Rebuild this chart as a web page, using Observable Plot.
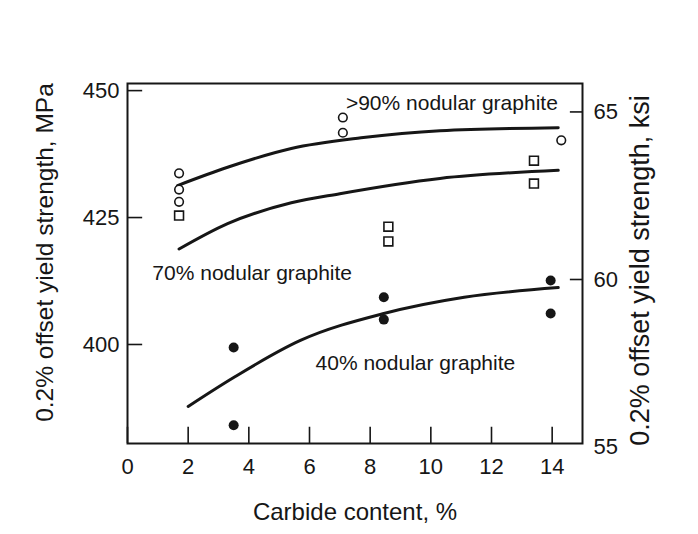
<!DOCTYPE html>
<html><head><meta charset="utf-8">
<script src="https://cdn.jsdelivr.net/npm/d3@7"></script>
<script src="https://cdn.jsdelivr.net/npm/@observablehq/plot@0.6"></script>
<style>html,body{margin:0;padding:0;background:#fff;}</style>
</head><body><div id="chart"></div>
<script>
// Axis ticks
const xTicks = [0, 2, 4, 6, 8, 10, 12, 14];
const mpaTicks = [400, 425, 450];
const ksiTicks = [55, 60, 65];

// >90% nodular graphite — open circles (carbide %, MPa)
const c90X = [1.7, 1.7, 1.7, 7.1, 7.1, 14.3];
const c90Y = [433.7, 430.5, 428.1, 444.7, 441.7, 440.2];
// 70% nodular graphite — open squares
const s70X = [1.7, 8.6, 8.6, 13.4, 13.4];
const s70Y = [425.4, 423.2, 420.3, 436.2, 431.7];
// 40% nodular graphite — filled circles
const f40X = [3.5, 3.5, 8.45, 8.45, 13.95, 13.95];
const f40Y = [399.4, 384.1, 409.3, 404.9, 412.6, 406.1];

// Fitted curves
const curve90X = [1.65, 3.3, 5.4, 7.7, 10.3, 14.2];
const curve90Y = [431.3, 434.9, 438.6, 440.7, 442.1, 442.7];
const curve70X = [1.7, 3.3, 5.4, 7.0, 10.3, 14.2];
const curve70Y = [418.8, 423.8, 427.9, 429.7, 432.7, 434.3];
const curve40X = [2.0, 3.5, 5.7, 8.45, 11.1, 14.2];
const curve40Y = [387.8, 393.5, 400.8, 406.1, 409.3, 411.2];

// Curve labels
const labels = [">90% nodular graphite", "70% nodular graphite", "40% nodular graphite"];
const labelX = [7.2, 0.82, 6.2];
const labelY = [447.6, 414.0, 396.3];

const xLabel = "Carbide content, %";
const yLabelLeft = "0.2% offset yield strength, MPa";
const yLabelRight = "0.2% offset yield strength, ksi";

// secondary (ksi) axis as drawn in the figure
const ksiToMPa = k => 379.8 + (k - 55) * 6.6;
const mpaToKsi = m => Math.round(55 + (m - 379.8) / 6.6);

const xDomain = [0, 15];
const yDomain = [380.5, 451.4];

const pts = (xs, ys) => xs.map((x, i) => ({x, y: ys[i]}));
const ink = "#161616";
const font = "'Liberation Sans', Arial, Helvetica, sans-serif";

const chart = Plot.plot({
  width: 698,
  height: 534,
  marginLeft: 127,
  marginRight: 116,
  marginTop: 83,
  marginBottom: 91,
  style: {fontFamily: font, background: "#fff", color: ink},
  x: {domain: xDomain},
  y: {domain: yDomain},
  marks: [
    Plot.axisX(xTicks, {tickSize: 0, tickPadding: 15, fontSize: 22, label: null}),
    Plot.axisY(mpaTicks, {anchor: "left", tickSize: 0, tickPadding: 8, fontSize: 22, label: null}),
    Plot.axisY(ksiTicks.map(ksiToMPa), {anchor: "right", tickSize: 0, tickPadding: 11, fontSize: 22, label: null, tickFormat: mpaToKsi}),
    Plot.ruleX(xTicks, {x: d => d, y1: yDomain[0], y2: yDomain[0] + 3.2, stroke: ink, strokeWidth: 1.6}),
    Plot.ruleY(mpaTicks, {y: d => d, x1: xDomain[0], x2: xDomain[0] + 0.5, stroke: ink, strokeWidth: 1.6}),
    Plot.ruleY(ksiTicks.map(ksiToMPa).filter(d => d > yDomain[0]), {y: d => d, x1: xDomain[1] - 0.4, x2: xDomain[1], stroke: ink, strokeWidth: 1.6}),
    Plot.frame({stroke: ink, strokeWidth: 2}),
    Plot.line(pts(curve90X, curve90Y), {x: "x", y: "y", curve: "monotone-x", stroke: ink, strokeWidth: 3}),
    Plot.line(pts(curve70X, curve70Y), {x: "x", y: "y", curve: "monotone-x", stroke: ink, strokeWidth: 3}),
    Plot.line(pts(curve40X, curve40Y), {x: "x", y: "y", curve: "monotone-x", stroke: ink, strokeWidth: 3}),
    Plot.dot(pts(c90X, c90Y), {x: "x", y: "y", r: 4.3, stroke: ink, strokeWidth: 1.6, fill: "#fff"}),
    Plot.dot(pts(s70X, s70Y), {x: "x", y: "y", symbol: "square", r: 5, stroke: ink, strokeWidth: 1.6, fill: "#fff"}),
    Plot.dot(pts(f40X, f40Y), {x: "x", y: "y", r: 5, fill: ink, stroke: "none"}),
    Plot.text(labels.map((t, i) => ({t, x: labelX[i], y: labelY[i]})), {x: "x", y: "y", text: "t", textAnchor: "start", fontSize: 21, fill: ink}),
    Plot.text([xLabel], {text: d => d, frameAnchor: "bottom", textAnchor: "middle", lineAnchor: "middle", dy: 69, fontSize: 24, fill: ink}),
    Plot.text([yLabelLeft], {text: d => d, frameAnchor: "left", textAnchor: "middle", lineAnchor: "middle", dx: -82, dy: -11, rotate: -90, fontSize: 24.5, fill: ink}),
    Plot.text([yLabelRight], {text: d => d, frameAnchor: "right", textAnchor: "middle", lineAnchor: "middle", dx: 58, dy: 7, rotate: -90, fontSize: 27, fill: ink})
  ]
});
document.getElementById("chart").appendChild(chart);
</script>
</body></html>
